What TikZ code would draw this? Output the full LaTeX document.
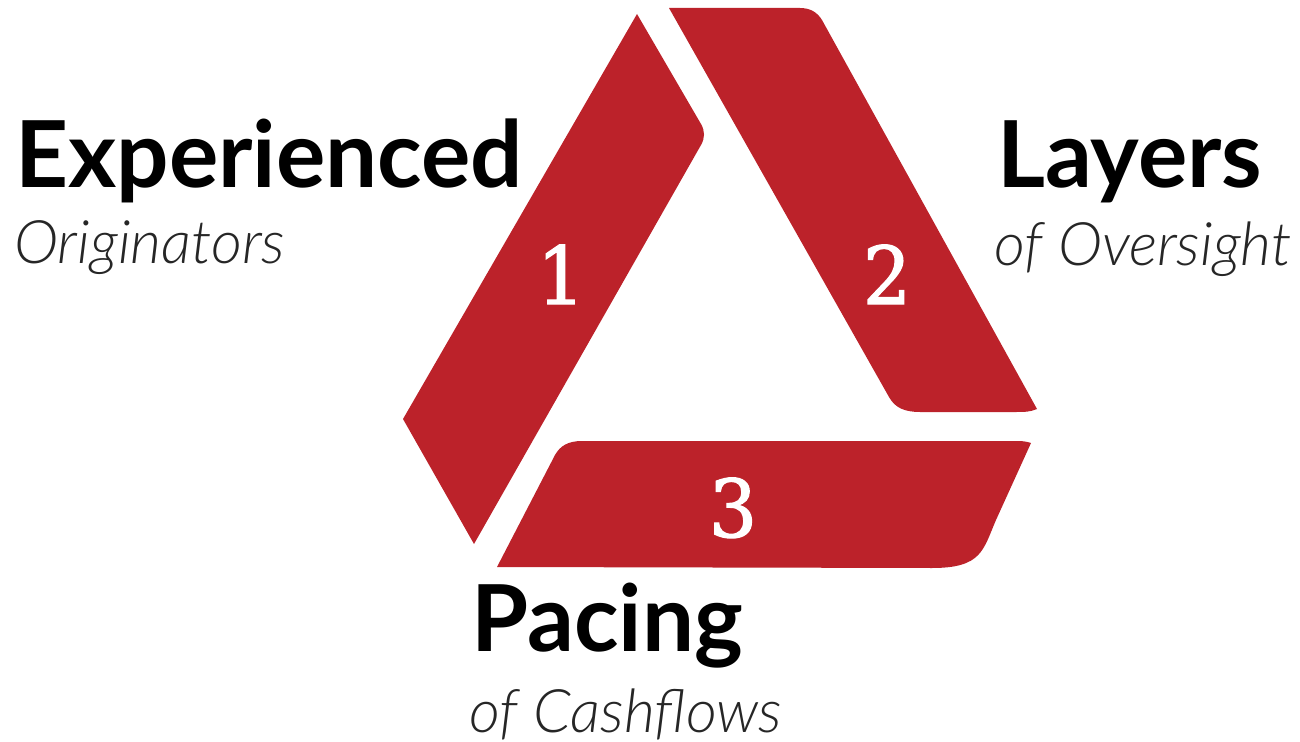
\documentclass[tikz,border=0pt]{standalone}
\usepackage{fontspec}
\setmainfont{Lato}
\newfontfamily\lightit[ItalicFont={Lato Light Italic}]{Lato Light}
\newfontfamily\numfont[FakeStretch=0.95,FakeBold=1.5]{DejaVu Serif}
\definecolor{brick}{HTML}{BC222A}
\tikzset{
  band/.style={fill=brick,draw=none},
  headtext/.style={inner sep=0pt,anchor=base west,font=\fontsize{69.3pt}{70pt}\selectfont\bfseries,text=black},
  subtext/.style={inner sep=0pt,anchor=base west,font=\fontsize{45pt}{45pt}\selectfont\lightit\itshape,text=black!85},
  numtext/.style={inner sep=0pt,anchor=base,font=\fontsize{60pt}{60pt}\selectfont\numfont,text=white}
}
\begin{document}
\begin{tikzpicture}[x=0.75pt,y=-0.75pt]
\useasboundingbox (0,0) rectangle (1300,742);
\fill[band] (637,14) -- (701,124) .. controls (705,131) and (705,138) .. (701,145) -- (474,544) -- (403,419) -- cycle;
\fill[band] (669,8) -- (800,8) .. controls (810,8) and (817,12) .. (822,20) -- (1037,409) .. controls (1030,412) and (1025,412) .. (1015,412) -- (920,412) .. controls (905,412) and (895,408) .. (889,397) -- cycle;
\fill[band] (497,567) -- (555,455) .. controls (560,446) and (568,441) .. (582,441) -- (1018,441) .. controls (1024,441) and (1028,442) .. (1031,443) -- (996,520) .. controls (983,550) and (982,568) .. (932,568) -- cycle;
\node[headtext] (exp) at (15,187) {Experienced};
\node[subtext] (ori) at (14,263) {Originators};
\node[headtext] (lay) at (997,187) {Layers};
\node[subtext] (ove) at (994,265) {of Oversight};
\node[headtext] (pac) at (471,651) {Pacing};
\node[subtext] (cas) at (469,732) {of Cashflows};
\node[numtext] (n1) at (561,304) {1};
\node[numtext] (n2) at (887,304) {2};
\node[numtext] (n3) at (733,537) {3};
\end{tikzpicture}
\end{document}
